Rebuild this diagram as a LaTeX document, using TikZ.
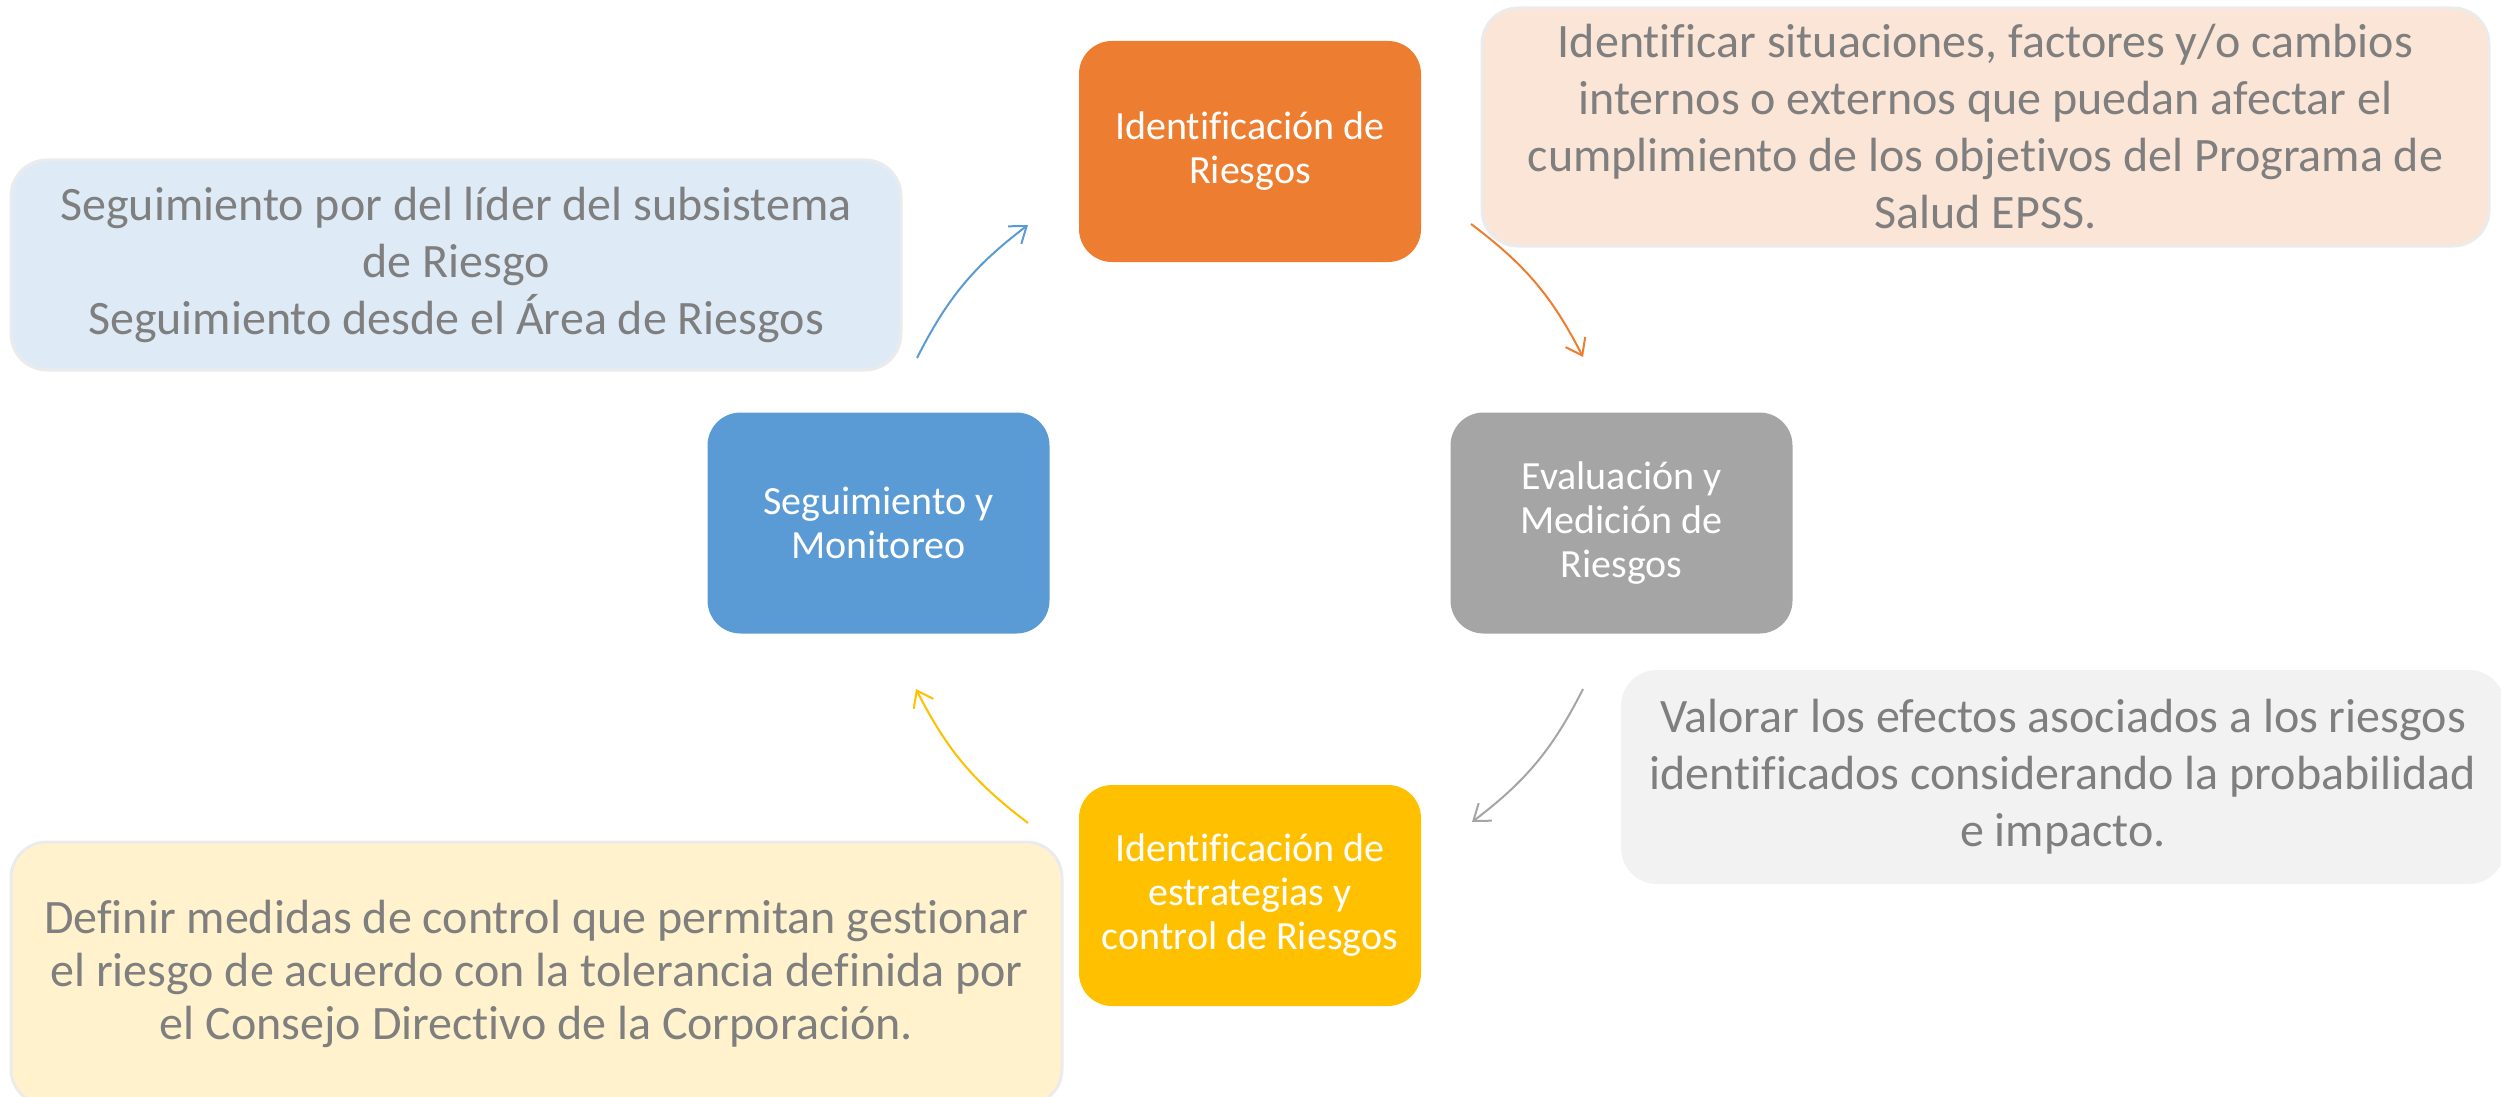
\documentclass[tikz,border=0pt]{standalone}
\usepackage{fontspec}
\setmainfont{Carlito}[Ligatures=CommonOff]
\usetikzlibrary{arrows.meta, positioning}
\definecolor{riskorange}{HTML}{ED7D31}
\definecolor{riskgray}{HTML}{A5A5A5}
\definecolor{riskyellow}{HTML}{FFC000}
\definecolor{riskblue}{HTML}{5B9BD5}
\definecolor{notepeach}{HTML}{FBE5D6}
\definecolor{notegray}{HTML}{F2F2F2}
\definecolor{noteyellow}{HTML}{FFF2CC}
\definecolor{noteblue}{HTML}{DEEBF7}
\definecolor{noteborder}{HTML}{EBEBEB}
\definecolor{textgray}{HTML}{7F7F7F}

\begin{document}
\begin{tikzpicture}[x=1pt, y=-1pt, >={Straight Barb[length=15pt,width=22pt]},
  stage/.style={rounded corners=33pt, minimum width=342pt, minimum height=221pt,
    inner sep=0pt, align=center, text=white, font=\fontsize{40}{44}\selectfont},
  note/.style={rounded corners=36pt, draw=noteborder, line width=3pt, inner sep=0pt,
    align=center, text=textgray, font=\fontsize{48}{57}\selectfont},
  cyclearrow/.style={->, line width=2pt, bend left=13}]
  \useasboundingbox (0,0) rectangle (2501,1097);
  \clip (0,0) rectangle (2501,1097);

  % notes
  \node[note, fill=notepeach, minimum width=1007pt, minimum height=238pt] (idnote) at (1985.5,127)
    {Identificar situaciones, factores y/o cambios\\internos o externos que puedan afectar el\\cumplimiento de los objetivos del Programa de\\Salud EPSS.};
  \node[note, fill=noteblue, minimum width=890pt, minimum height=210pt] (seginote) at (456,265)
    {Seguimiento por del líder del subsistema\\de Riesgo\\Seguimiento desde el Área de Riesgos};
  \node[note, fill=notegray, draw=none, minimum width=884pt, minimum height=214pt] (evalnote) at (2063,777)
    {Valorar los efectos asociados a los riesgos\\identificados considerando la probabilidad\\e impacto.};
  \node[note, fill=noteyellow, minimum width=1051pt, minimum height=263pt,
    font=\fontsize{48}{53}\selectfont] (estrnote) at (536.5,973.5)
    {Definir medidas de control que permitan gestionar\\el riesgo de acuerdo con la tolerancia definida por\\el Consejo Directivo de la Corporación.};

  % stages
  \node[stage, fill=riskorange] (ident) at (1250,151.5) {Identificación de\\Riesgos};
  \node[stage, fill=riskgray] (eval) at (1621.5,523) {Evaluación y\\Medición de\\Riesgos};
  \node[stage, fill=riskyellow] (estr) at (1250,895.5) {Identificación de\\estrategias y\\control de Riesgos};
  \node[stage, fill=riskblue] (segui) at (878.5,523) {Seguimiento y\\Monitoreo};

  % arrow ends
  \coordinate (s1) at (917,358);  \coordinate (e1) at (1028,225);
  \coordinate (s2) at (1471,224); \coordinate (e2) at (1583,357);
  \coordinate (s3) at (1583,689); \coordinate (e3) at (1472,822);
  \coordinate (s4) at (1028,823); \coordinate (e4) at (916,689);

  \draw[cyclearrow, riskblue] (s1) to (e1);
  \draw[cyclearrow, riskorange] (s2) to (e2);
  \draw[cyclearrow, riskgray] (s3) to (e3);
  \draw[cyclearrow, riskyellow] (s4) to (e4);
\end{tikzpicture}
\end{document}
